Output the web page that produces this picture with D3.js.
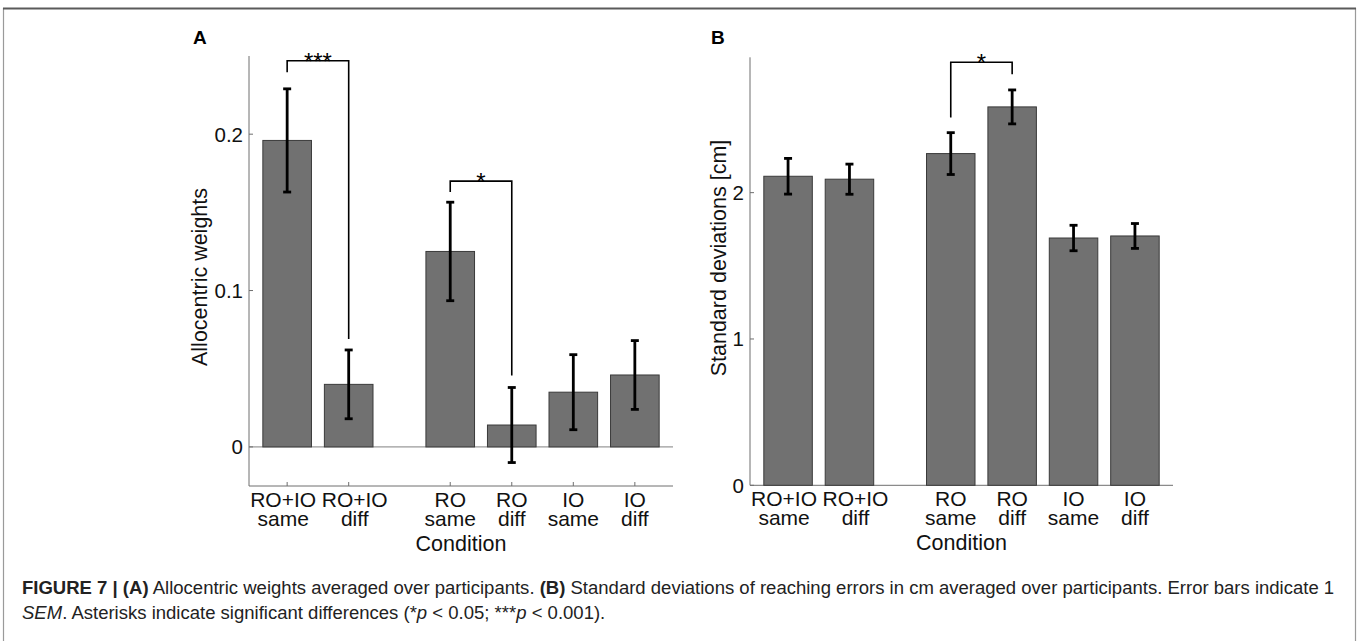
<!DOCTYPE html>
<html>
<head>
<meta charset="utf-8">
<script src="https://cdn.jsdelivr.net/npm/d3@7"></script>
<style>
  body { margin: 0; background: #fff; }
  svg { display: block; font-family: "Liberation Sans", Arial, Helvetica, sans-serif; }
  .tick-label { font-size: 20.5px; fill: #111; }
  .cond-label { font-size: 21px; fill: #111; }
  .axis-title { font-size: 21.5px; fill: #111; }
  .panel-letter { font-size: 19px; font-weight: bold; fill: #000; }
  .caption { font-size: 15.5px; fill: #222; }
</style>
</head>
<body>
<div id="chart"></div>
<script>
//begin: data
var conditionTop = ["RO+IO", "RO+IO", "RO", "RO", "IO", "IO"];
var conditionBottom = ["same", "diff", "same", "diff", "same", "diff"];

var weightMean = [0.196, 0.040, 0.125, 0.014, 0.035, 0.046];
var weightSem = [0.033, 0.022, 0.0315, 0.024, 0.024, 0.022];
var weightTicks = [0, 0.1, 0.2];
var weightTickLabels = ["0", "0.1", "0.2"];

var sdMean = [2.112, 2.092, 2.267, 2.586, 1.690, 1.704];
var sdSem = [0.122, 0.103, 0.143, 0.116, 0.087, 0.085];
var sdTicks = [0, 1, 2];
var sdTickLabels = ["0", "1", "2"];

// significance brackets: [left bar, right bar, bracket level, left leg end, right leg end, label]
var weightSig = [
  [0, 1, 0.247, 0.2396, 0.069, "***"],
  [2, 3, 0.170, 0.163, 0.0456, "*"]
];
var sdSig = [
  [2, 3, 2.891, 2.513, 2.809, "*"]
];
//end: data

//begin: layout conf.
var W = 1358, H = 641;
var groupGap = 0.65;
var barWidth = 0.79;
var labelShift = [-4, 6, 0, 0, 0, 0];
//end: layout conf.

var svg = d3.select("#chart").append("svg")
  .attr("width", W)
  .attr("height", H);

// frame
svg.append("line").attr("x1", 3.5).attr("x2", 3.5).attr("y1", 8).attr("y2", H)
  .attr("stroke", "#9a9a9a").attr("stroke-width", 1.2);
svg.append("line").attr("x1", 1355.5).attr("x2", 1355.5).attr("y1", 8).attr("y2", H)
  .attr("stroke", "#9a9a9a").attr("stroke-width", 1.2);
svg.append("line").attr("x1", 3).attr("x2", 1356).attr("y1", 8.5).attr("y2", 8.5)
  .attr("stroke", "#5a5a5a").attr("stroke-width", 2);

function slot(i) { return i + 1 + (i >= 2 ? groupGap : 0); }

function drawPanel(opts) {
  var g = svg.append("g");
  var x = d3.scaleLinear().domain([0.38, slot(5) + 0.62]).range([opts.left, opts.right]);
  var y = d3.scaleLinear().domain(opts.domain).range([opts.bottom, opts.top]);

  // axes lines
  g.append("line").attr("x1", opts.left).attr("x2", opts.left)
    .attr("y1", opts.top).attr("y2", opts.bottom)
    .attr("stroke", "#6e6e6e").attr("stroke-width", 1);
  g.append("line").attr("x1", opts.left).attr("x2", opts.right)
    .attr("y1", opts.bottom).attr("y2", opts.bottom)
    .attr("stroke", "#6e6e6e").attr("stroke-width", 1);

  // zero baseline
  if (opts.domain[0] < 0) {
    g.append("line").attr("x1", opts.left).attr("x2", opts.right)
      .attr("y1", y(0)).attr("y2", y(0))
      .attr("stroke", "#808080").attr("stroke-width", 1);
  }

  // y ticks
  var yt = g.selectAll(".ytick").data(opts.ticks).enter().append("g");
  yt.append("line")
    .attr("x1", opts.left).attr("x2", opts.left + 4)
    .attr("y1", function (d) { return y(d); }).attr("y2", function (d) { return y(d); })
    .attr("stroke", "#6e6e6e");
  yt.append("text")
    .classed("tick-label", true)
    .attr("x", opts.left - 6)
    .attr("y", function (d) { return y(d); })
    .attr("dy", "0.36em")
    .attr("text-anchor", "end")
    .text(function (d, i) { return opts.tickLabels[i]; });

  // x ticks and two-line labels
  var xt = g.selectAll(".xtick").data(conditionTop).enter().append("g")
    .attr("transform", function (d, i) { return "translate(" + [x(slot(i)), opts.bottom] + ")"; });
  xt.append("line").attr("y1", 0).attr("y2", -4).attr("stroke", "#6e6e6e");
  var lbl = xt.append("text").classed("cond-label", true)
    .attr("text-anchor", "middle");
  lbl.append("tspan").attr("x", function (d, i) { return labelShift[i]; }).attr("y", 21)
    .text(function (d) { return d; });
  lbl.append("tspan").attr("x", function (d, i) { return labelShift[i]; }).attr("y", 39.5)
    .text(function (d, i) { return conditionBottom[i]; });

  // bars
  g.selectAll(".bar").data(opts.mean).enter().append("rect")
    .attr("x", function (d, i) { return x(slot(i) - barWidth / 2); })
    .attr("width", x(barWidth) - x(0))
    .attr("y", function (d) { return y(Math.max(d, 0)); })
    .attr("height", function (d) { return Math.abs(y(d) - y(0)); })
    .attr("fill", "#717171")
    .attr("stroke", "#3a3a3a")
    .attr("stroke-width", 1);

  // error bars
  var eb = g.selectAll(".err").data(opts.mean).enter().append("g")
    .attr("stroke", "#000").attr("stroke-width", 2.8);
  eb.append("line")
    .attr("x1", function (d, i) { return x(slot(i)); })
    .attr("x2", function (d, i) { return x(slot(i)); })
    .attr("y1", function (d, i) { return y(d - opts.sem[i]); })
    .attr("y2", function (d, i) { return y(d + opts.sem[i]); });
  [-1, 1].forEach(function (s) {
    eb.append("line")
      .attr("x1", function (d, i) { return x(slot(i)) - 4; })
      .attr("x2", function (d, i) { return x(slot(i)) + 4; })
      .attr("y1", function (d, i) { return y(d + s * opts.sem[i]); })
      .attr("y2", function (d, i) { return y(d + s * opts.sem[i]); });
  });

  // significance brackets
  var sg = g.selectAll(".sig").data(opts.sig).enter().append("g");
  sg.append("path")
    .attr("fill", "none").attr("stroke", "#000").attr("stroke-width", 1.6)
    .attr("d", function (d) {
      var x1 = x(slot(d[0])), x2 = x(slot(d[1]));
      return "M" + [x1, y(d[3])] + "L" + [x1, y(d[2])] + "L" + [x2, y(d[2])] + "L" + [x2, y(d[4])];
    });
  sg.append("text")
    .attr("x", function (d) { return (x(slot(d[0])) + x(slot(d[1]))) / 2; })
    .attr("y", function (d) { return y(d[2]) + 9; })
    .attr("text-anchor", "middle")
    .style("font-size", "24px")
    .text(function (d) { return d[5]; });

  // axis titles
  g.append("text").classed("axis-title", true)
    .attr("x", (opts.left + opts.right) / 2)
    .attr("y", opts.bottom + 65)
    .attr("text-anchor", "middle")
    .text("Condition");
  g.append("text").classed("axis-title", true)
    .attr("transform", "translate(" + [opts.ylabelX, opts.ylabelY] + ") rotate(-90)")
    .attr("text-anchor", "middle")
    .text(opts.ylabel);

  // panel letter
  g.append("text").classed("panel-letter", true)
    .attr("x", opts.letterX).attr("y", 44)
    .text(opts.letter);
}

drawPanel({
  left: 249, right: 673, top: 56, bottom: 486,
  domain: [-0.025, 0.25],
  ticks: weightTicks, tickLabels: weightTickLabels,
  mean: weightMean, sem: weightSem, sig: weightSig,
  ylabel: "Allocentric weights", ylabelX: 207, ylabelY: 277,
  letter: "A", letterX: 193
});

drawPanel({
  left: 750, right: 1173, top: 57.3, bottom: 485.3,
  domain: [0, 2.925],
  ticks: sdTicks, tickLabels: sdTickLabels,
  mean: sdMean, sem: sdSem, sig: sdSig,
  ylabel: "Standard deviations [cm]", ylabelX: 726, ylabelY: 258,
  letter: "B", letterX: 711
});

// caption
var cap = svg.append("text").classed("caption", true);
var line1 = cap.append("tspan").attr("x", 22).attr("y", 594);
line1.append("tspan").style("font-weight", "bold").text("FIGURE 7 | (A)");
line1.append("tspan").text(" Allocentric weights averaged over participants. ");
line1.append("tspan").style("font-weight", "bold").text("(B)");
line1.append("tspan").text(" Standard deviations of reaching errors in cm averaged over participants. Error bars indicate 1");
var line2 = svg.append("text").classed("caption", true).attr("x", 22).attr("y", 619);
line2.append("tspan").style("font-style", "italic").text("SEM");
line2.append("tspan").text(". Asterisks indicate significant differences (*");
line2.append("tspan").style("font-style", "italic").text("p");
line2.append("tspan").text(" < 0.05; ***");
line2.append("tspan").style("font-style", "italic").text("p");
line2.append("tspan").text(" < 0.001).");

// fit caption width to the reference line length
var len = cap.node().getComputedTextLength();
var fs = 15.5 * 1313 / len;
svg.selectAll(".caption").style("font-size", fs + "px");
</script>
</body>
</html>
